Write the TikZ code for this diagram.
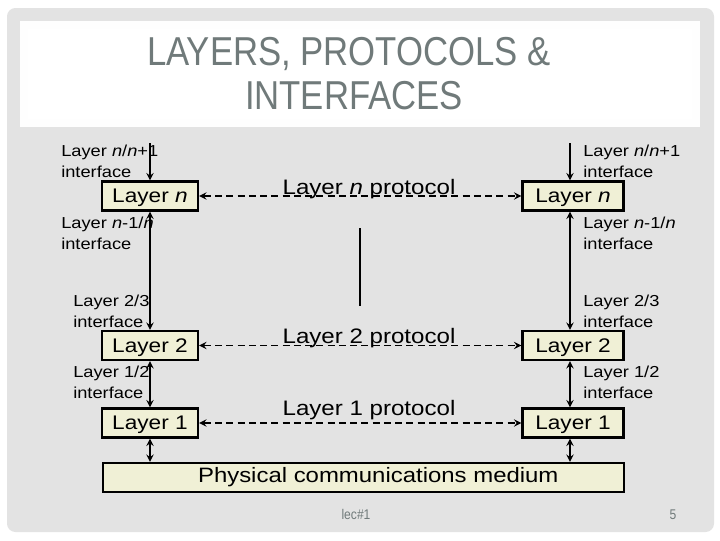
\documentclass[tikz,border=0pt]{standalone}
\usepackage{fontspec}
\setmainfont[FakeStretch=1.15]{Liberation Sans}
\newfontfamily\slidefont[FakeStretch=0.86]{Liberation Sans}
\usepackage{xcolor}
\usepackage{tikz}

\definecolor{slidegray}{RGB}{227,227,227}
\definecolor{boxfill}{RGB}{240,240,214}
\definecolor{titlegray}{RGB}{112,122,122}

\begin{document}
\begin{tikzpicture}[x=0.025cm, y=-0.025cm, >=stealth,
    layerbox/.style={draw, line width=1.6pt, fill=boxfill, inner sep=0pt,
        minimum height=0.725cm, text depth=0pt, font=\fontsize{14}{16}\selectfont},
    iflabel/.style={anchor=north west, inner sep=0pt, align=left,
        font=\fontsize{11.3}{14.9}\selectfont},
    protolabel/.style={anchor=base, inner sep=0pt, font=\fontsize{14.9}{17}\selectfont},
    ifarrow/.style={line width=1.3pt},
    protoarrow/.style={<->, line width=1.3pt, dash pattern=on 5pt off 3pt}]
    % slide background and title
    \useasboundingbox[fill=white] (0,0) rectangle (720,540);
    \fill[slidegray, rounded corners=6pt] (7,8) rectangle (714,532);
    \fill[white!96!slidegray] (20,21) rectangle (700,127);
    \fill[white] (28,29) rectangle (692,119);
    \node[anchor=base, inner sep=0pt, text=titlegray, font=\slidefont\fontsize{28.7}{31}\selectfont]
        (ttl1) at (349,65) {LAYERS, PROTOCOLS \&};
    \node[anchor=base, inner sep=0pt, text=titlegray, font=\slidefont\fontsize{28.7}{31}\selectfont]
        (ttl2) at (354,109) {INTERFACES};

    % layer boxes, left and right host
    \node[layerbox, minimum width=2.4cm] (lnL) at (150,196) {Layer \textit{n}};
    \node[layerbox, minimum width=2.4cm] (l2L) at (150,345.5) {Layer 2};
    \node[layerbox, minimum width=2.4cm] (l1L) at (150,423) {Layer 1};
    \node[layerbox, minimum width=2.525cm] (lnR) at (573,196) {Layer \textit{n}};
    \node[layerbox, minimum width=2.525cm] (l2R) at (573,345.5) {Layer 2};
    \node[layerbox, minimum width=2.525cm] (l1R) at (573,423) {Layer 1};
    \node[layerbox, minimum width=13.025cm, text depth=, font=\fontsize{14.8}{17}\selectfont]
        (phys) at (363.5,477.5) {\hspace*{21pt}Physical communications medium};

    % interfaces
    \coordinate (topL) at (150,143);
    \coordinate (topR) at (570,143);
    \draw[->, ifarrow] (topL) -- (lnL.north);
    \draw[<->, ifarrow] (lnL.south) -- (l2L.north);
    \draw[<->, ifarrow] (l2L.south) -- (l1L.north);
    \draw[<->, ifarrow] (l1L.south) -- (l1L.south |- phys.north);
    \draw[->, ifarrow] (topR) -- (topR |- lnR.north);
    \draw[<->, ifarrow] (topR |- lnR.south) -- (topR |- l2R.north);
    \draw[<->, ifarrow] (topR |- l2R.south) -- (topR |- l1R.north);
    \draw[<->, ifarrow] (topR |- l1R.south) -- (topR |- phys.north);

    \node[iflabel] (ifnL) at (61,145) {Layer \textit{n}/\textit{n}+1\\interface};
    \node[iflabel] (ifmL) at (61,217) {Layer \textit{n}-1/\textit{n}\\interface};
    \node[iflabel] (if23L) at (73,295) {Layer 2/3\\interface};
    \node[iflabel] (if12L) at (73,366) {Layer 1/2\\interface};
    \node[iflabel] (ifnR) at (583,145) {Layer \textit{n}/\textit{n}+1\\interface};
    \node[iflabel] (ifmR) at (583,217) {Layer \textit{n}-1/\textit{n}\\interface};
    \node[iflabel] (if23R) at (583,295) {Layer 2/3\\interface};
    \node[iflabel] (if12R) at (583,366) {Layer 1/2\\interface};

    % peer protocols
    \draw[protoarrow] (lnL) -- (lnR);
    \draw[protoarrow] (l2L) -- (l2R);
    \draw[protoarrow] (l1L) -- (l1R);
    \node[protolabel] (pn) at (369,194) {Layer \textit{n} protocol};
    \node[protolabel] (p2) at (369,343) {Layer 2 protocol};
    \node[protolabel] (p1) at (369,415) {Layer 1 protocol};
    \draw[line width=1.4pt] (360,228) -- (360,306);

    % footer
    \node[anchor=base, inner sep=0pt, text=titlegray, font=\slidefont\fontsize{10}{12}\selectfont]
        (lec) at (356,519) {lec\#1};
    \node[anchor=base, inner sep=0pt, text=titlegray, font=\slidefont\fontsize{10}{12}\selectfont]
        (pg) at (673,519) {5};
\end{tikzpicture}
\end{document}
